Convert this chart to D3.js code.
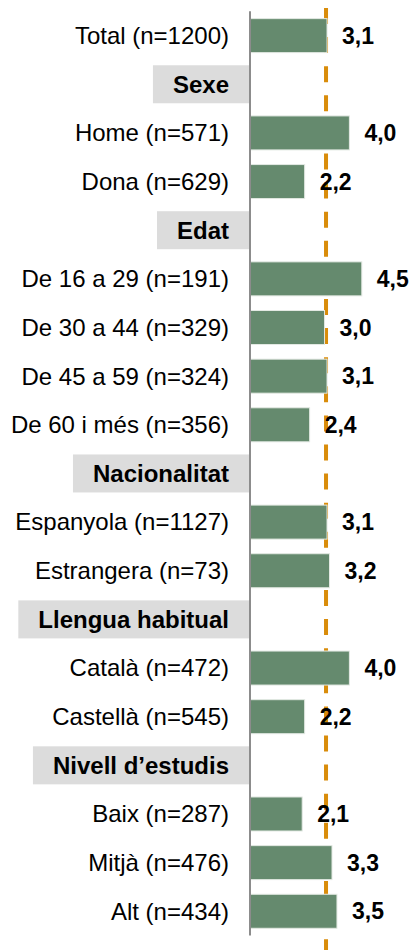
<!DOCTYPE html>
<html>
<head>
<meta charset="utf-8">
<script src="https://cdn.jsdelivr.net/npm/d3@7"></script>
<style>
  html, body { margin: 0; padding: 0; background: #ffffff; }
  svg { display: block; }
</style>
</head>
<body>
<svg id="chart" width="414" height="950"></svg>
<script>
// ---- data ----
const rowLabels = [
  "Total (n=1200)", "Sexe", "Home (n=571)", "Dona (n=629)", "Edat",
  "De 16 a 29 (n=191)", "De 30 a 44 (n=329)", "De 45 a 59 (n=324)", "De 60 i més (n=356)",
  "Nacionalitat", "Espanyola (n=1127)", "Estrangera (n=73)",
  "Llengua habitual", "Català (n=472)", "Castellà (n=545)",
  "Nivell d\u2019estudis", "Baix (n=287)", "Mitjà (n=476)", "Alt (n=434)"
];
const rowIsHeader = [false, true, false, false, true, false, false, false, false,
  true, false, false, true, false, false, true, false, false, false];
const values = [3.1, null, 4.0, 2.2, null, 4.5, 3.0, 3.1, 2.4, null, 3.1, 3.2,
  null, 4.0, 2.2, null, 2.1, 3.3, 3.5];
const averageValue = 3.06;

// ---- layout ----
const svg = d3.select("#chart");
const x = d3.scaleLinear().domain([0, 6.5]).range([250, 411.5]);
const idx = d3.range(rowLabels.length);
const y = d3.scaleBand().domain(idx).range([11.3, 935.6]).paddingInner(0).paddingOuter(0);
const bw = y.bandwidth();
const fmt = v => d3.format(".1f")(v).replace(".", ",");
const font = "Arial, 'Liberation Sans', sans-serif";

// reference dashed line (behind bars)
svg.append("line")
  .attr("x1", x(averageValue)).attr("x2", x(averageValue))
  .attr("y1", 8).attr("y2", 950)
  .attr("stroke", "#d98c0a").attr("stroke-width", 4)
  .attr("stroke-dasharray", "16,13.1");

// header boxes
const headers = idx.filter(i => rowIsHeader[i]);
const hg = svg.append("g");
headers.forEach(i => {
  const t = hg.append("text")
    .attr("x", 229).attr("y", y(i) + bw / 2).attr("dy", "0.35em")
    .attr("text-anchor", "end")
    .attr("font-family", font).attr("font-size", 24).attr("font-weight", "bold")
    .attr("fill", "#000").text(rowLabels[i]);
  const w = t.node().getComputedTextLength();
  hg.insert("rect", "text")
    .attr("x", 229 - w - 20).attr("width", 249 - (229 - w - 20))
    .attr("y", y(i) + bw / 2 - 19).attr("height", 38)
    .attr("fill", "#dcdcdc");
});

// category labels
const dataRows = idx.filter(i => !rowIsHeader[i]);
svg.append("g").selectAll("text").data(dataRows).join("text")
  .attr("x", 229).attr("y", i => y(i) + bw / 2).attr("dy", "0.35em")
  .attr("text-anchor", "end")
  .attr("font-family", font).attr("font-size", 24)
  .attr("fill", "#000").text(i => rowLabels[i]);

// bars
const barH = 34;
svg.append("g").selectAll("rect").data(dataRows).join("rect")
  .attr("x", x(0)).attr("y", i => y(i) + bw / 2 - barH / 2)
  .attr("width", i => x(values[i]) - x(0)).attr("height", barH)
  .attr("fill", "#658a6e").attr("stroke", "#e3e9e3").attr("stroke-width", 1);

// value labels
svg.append("g").selectAll("text").data(dataRows).join("text")
  .attr("x", i => x(values[i]) + 15).attr("y", i => y(i) + bw / 2).attr("dy", "0.35em")
  .attr("font-family", font).attr("font-size", 23).attr("font-weight", "bold")
  .attr("fill", "#000").text(i => fmt(values[i]));

// vertical axis line
svg.append("line")
  .attr("x1", 250).attr("x2", 250)
  .attr("y1", y.range()[0]).attr("y2", y.range()[1])
  .attr("stroke", "#8c8c8c").attr("stroke-width", 2);
</script>
</body>
</html>
